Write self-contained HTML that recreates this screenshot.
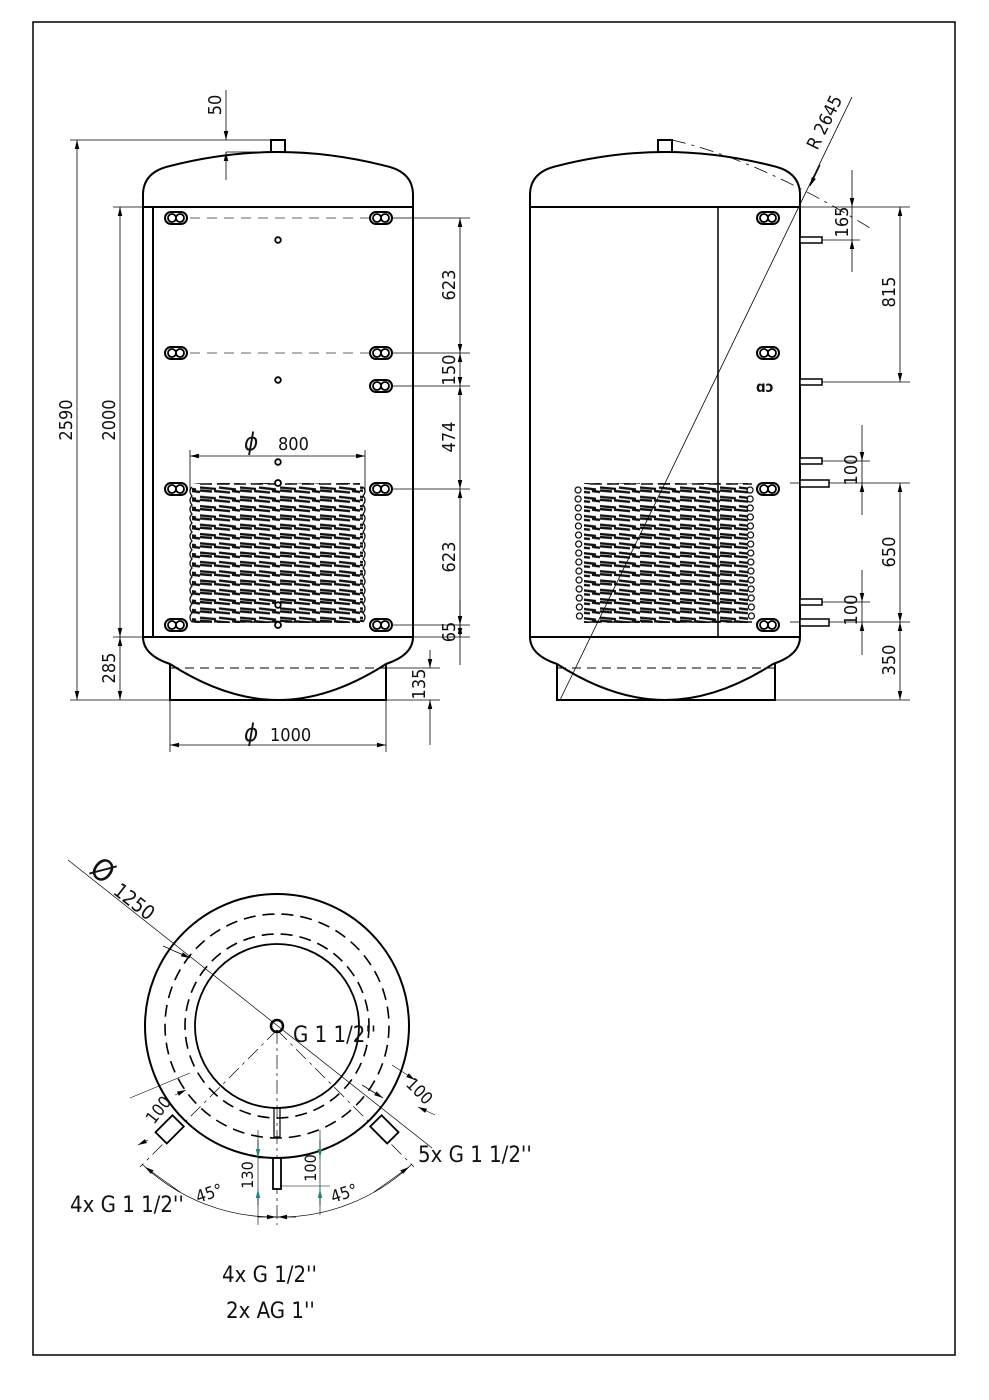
<!DOCTYPE html>
<html><head><meta charset="utf-8"><style>
html,body{margin:0;padding:0;background:#fff}
svg{display:block}
text{font-family:"Liberation Sans Narrow","DejaVu Sans Condensed","Liberation Sans",sans-serif;fill:#111}
</style></head><body>
<svg width="989" height="1400" viewBox="0 0 989 1400" xmlns="http://www.w3.org/2000/svg">
<defs>
<marker id="a" viewBox="0 0 10 10" refX="10" refY="5" markerWidth="9" markerHeight="9" orient="auto-start-reverse" markerUnits="userSpaceOnUse"><path d="M0,2.5 L10,5 L0,7.5z" fill="#000"/></marker>
<marker id="t" viewBox="0 0 10 10" refX="10" refY="5" markerWidth="9" markerHeight="9" orient="auto-start-reverse" markerUnits="userSpaceOnUse"><path d="M0,2.5 L10,5 L0,7.5z" fill="#148a80"/></marker>
<g id="n"><rect x="-11" y="-6" width="22" height="12" rx="6" fill="#fff" stroke="#000" stroke-width="2"/><circle cx="-4" cy="0" r="4" fill="none" stroke="#000" stroke-width="1.8"/><circle cx="4" cy="0" r="4" fill="none" stroke="#000" stroke-width="1.8"/></g>
<pattern id="coil" x="0" y="485" width="40" height="9.3" patternUnits="userSpaceOnUse">
<path d="M0,2.5 L16,4 M19,2.5 L36,4.5 M0,5.5 L12,6.5 M14,6 L30,7.5 M32,6 L40,7" stroke="#111" stroke-width="2.4"/>
</pattern>
</defs>
<rect x="33" y="22" width="922" height="1333" fill="none" stroke="#000" stroke-width="1.5"/>

<!-- LEFT TANK -->
<g fill="none" stroke="#000" stroke-width="2">
<path d="M143,637 L143,195 Q143,172 170,166 Q225,152 278,152 Q331,152 386,166 Q413,172 413,195 L413,637 Q413,655 386,664 Q330,700 278,700 Q226,700 170,664 Q143,655 143,637Z"/>
<line x1="143" y1="207" x2="413" y2="207"/>
<line x1="143" y1="637" x2="413" y2="637"/>
<line x1="153" y1="207" x2="153" y2="637"/>
<rect x="271" y="140" width="14" height="12"/>
<path d="M170,664 L170,700 L386,700 L386,664"/>
</g>
<line x1="170" y1="668" x2="386" y2="668" stroke="#000" stroke-dasharray="9,6"/>
<g stroke="#333" stroke-width="0.8" stroke-dasharray="10,7">
<line x1="190" y1="218" x2="370" y2="218"/><line x1="190" y1="353" x2="370" y2="353"/>
</g>
<rect x="192" y="483" width="171" height="140" fill="url(#coil)"/>
<g fill="none" stroke="#111" stroke-width="1.3">
<path d="M192,487 q-4,4 0,9 q-4,4 0,9 q-4,4 0,9 q-4,4 0,9 q-4,4 0,9 q-4,4 0,9 q-4,4 0,9 q-4,4 0,9 q-4,4 0,9 q-4,4 0,9 q-4,4 0,9 q-4,4 0,9 q-4,4 0,9 q-4,4 0,9 q-4,4 0,9"/>
<path d="M363,487 q4,4 0,9 q4,4 0,9 q4,4 0,9 q4,4 0,9 q4,4 0,9 q4,4 0,9 q4,4 0,9 q4,4 0,9 q4,4 0,9 q4,4 0,9 q4,4 0,9 q4,4 0,9 q4,4 0,9 q4,4 0,9 q4,4 0,9"/>
</g>
<line x1="200" y1="484" x2="360" y2="484" stroke="#111" stroke-width="1.5" stroke-dasharray="12,5"/>
<line x1="200" y1="622" x2="360" y2="622" stroke="#111" stroke-width="1.5" stroke-dasharray="12,5"/>
<use href="#n" x="176" y="218"/><use href="#n" x="381" y="218"/>
<use href="#n" x="176" y="353"/><use href="#n" x="381" y="353"/>
<use href="#n" x="381" y="386"/>
<use href="#n" x="176" y="489"/><use href="#n" x="381" y="489"/>
<use href="#n" x="176" y="625"/><use href="#n" x="381" y="625"/>
<g fill="#fff" stroke="#000" stroke-width="1.8">
<circle cx="278" cy="240" r="2.8"/><circle cx="278" cy="380" r="2.8"/><circle cx="278" cy="462" r="2.8"/><circle cx="278" cy="483" r="3"/><circle cx="278" cy="605" r="2.8"/><circle cx="278" cy="625" r="3"/>
</g>
<!-- left dims -->
<g stroke="#000" stroke-width="0.8" fill="none">
<line x1="70" y1="140" x2="272" y2="140"/><line x1="113" y1="207" x2="143" y2="207"/>
<line x1="113" y1="637" x2="143" y2="637"/><line x1="70" y1="700" x2="170" y2="700"/>
<line x1="77" y1="140" x2="77" y2="700" marker-start="url(#a)" marker-end="url(#a)"/>
<line x1="120" y1="207" x2="120" y2="637" marker-start="url(#a)" marker-end="url(#a)"/>
<line x1="120" y1="637" x2="120" y2="700" marker-start="url(#a)" marker-end="url(#a)"/>
<line x1="226" y1="90" x2="226" y2="140" marker-end="url(#a)"/>
<line x1="226" y1="180" x2="226" y2="152" marker-end="url(#a)"/>
<line x1="226" y1="152" x2="278" y2="152"/>
<line x1="393" y1="218" x2="470" y2="218"/><line x1="393" y1="353" x2="470" y2="353"/>
<line x1="393" y1="386" x2="470" y2="386"/><line x1="393" y1="489" x2="470" y2="489"/>
<line x1="393" y1="625" x2="470" y2="625"/><line x1="413" y1="637" x2="470" y2="637"/>
<line x1="386" y1="668" x2="440" y2="668"/><line x1="386" y1="700" x2="440" y2="700"/>
<line x1="460" y1="218" x2="460" y2="353" marker-start="url(#a)" marker-end="url(#a)"/>
<line x1="460" y1="353" x2="460" y2="386" marker-start="url(#a)" marker-end="url(#a)"/>
<line x1="460" y1="386" x2="460" y2="489" marker-start="url(#a)" marker-end="url(#a)"/>
<line x1="460" y1="489" x2="460" y2="625" marker-start="url(#a)" marker-end="url(#a)"/>
<line x1="460" y1="625" x2="460" y2="665" marker-start="url(#a)"/>
<line x1="460" y1="600" x2="460" y2="637" marker-end="url(#a)"/>
<line x1="430" y1="650" x2="430" y2="668" marker-end="url(#a)"/>
<line x1="430" y1="745" x2="430" y2="700" marker-end="url(#a)"/>
<line x1="170" y1="700" x2="170" y2="752"/><line x1="386" y1="700" x2="386" y2="752"/>
<line x1="170" y1="745" x2="386" y2="745" marker-start="url(#a)" marker-end="url(#a)"/>
<line x1="190" y1="450" x2="190" y2="490"/><line x1="365" y1="450" x2="365" y2="490"/>
<line x1="190" y1="456" x2="365" y2="456" marker-start="url(#a)" marker-end="url(#a)"/>
</g>
<g font-size="18">
<text transform="translate(72,420) rotate(-90)" text-anchor="middle">2590</text>
<text transform="translate(115,420) rotate(-90)" text-anchor="middle">2000</text>
<text transform="translate(115,668) rotate(-90)" text-anchor="middle">285</text>
<text transform="translate(221,105) rotate(-90)" text-anchor="middle">50</text>
<text transform="translate(455,285) rotate(-90)" text-anchor="middle">623</text>
<text transform="translate(455,370) rotate(-90)" text-anchor="middle">150</text>
<text transform="translate(455,437) rotate(-90)" text-anchor="middle">474</text>
<text transform="translate(455,557) rotate(-90)" text-anchor="middle">623</text>
<text transform="translate(455,632) rotate(-90)" text-anchor="middle">65</text>
<text transform="translate(425,684) rotate(-90)" text-anchor="middle">135</text>
<text x="244" y="741" font-size="24" font-style="italic">ϕ</text><text x="270" y="741">1000</text>
<text x="244" y="450" font-size="24" font-style="italic">ϕ</text><text x="278" y="450">800</text>
</g>

<!-- RIGHT TANK -->
<g fill="none" stroke="#000" stroke-width="2">
<path d="M530,637 L530,195 Q530,172 557,166 Q612,152 665,152 Q718,152 773,166 Q800,172 800,195 L800,637 Q800,655 773,664 Q717,700 665,700 Q613,700 557,664 Q530,655 530,637Z"/>
<line x1="530" y1="207" x2="800" y2="207"/>
<line x1="530" y1="637" x2="800" y2="637"/>
<line x1="718" y1="207" x2="718" y2="637" stroke-width="1.5"/>
<rect x="658" y="140" width="14" height="12"/>
<path d="M557,664 L557,700 L775,700 L775,664"/>
</g>
<line x1="557" y1="668" x2="775" y2="668" stroke="#000" stroke-dasharray="9,6"/>
<rect x="584" y="483" width="164" height="140" fill="url(#coil)"/>
<g fill="none" stroke="#111" stroke-width="1.2">
<path d="M578,487 a3,3 0 1,0 0.1,0 m0,9 a3,3 0 1,0 0.1,0 m0,9 a3,3 0 1,0 0.1,0 m0,9 a3,3 0 1,0 0.1,0 m0,9 a3,3 0 1,0 0.1,0 m0,9 a3,3 0 1,0 0.1,0 m0,9 a3,3 0 1,0 0.1,0 m0,9 a3,3 0 1,0 0.1,0 m0,9 a3,3 0 1,0 0.1,0 m0,9 a3,3 0 1,0 0.1,0 m0,9 a3,3 0 1,0 0.1,0 m0,9 a3,3 0 1,0 0.1,0 m0,9 a3,3 0 1,0 0.1,0 m0,9 a3,3 0 1,0 0.1,0 m0,9 a3,3 0 1,0 0.1,0"/>
<path d="M750,487 a3,3 0 1,0 0.1,0 m0,9 a3,3 0 1,0 0.1,0 m0,9 a3,3 0 1,0 0.1,0 m0,9 a3,3 0 1,0 0.1,0 m0,9 a3,3 0 1,0 0.1,0 m0,9 a3,3 0 1,0 0.1,0 m0,9 a3,3 0 1,0 0.1,0 m0,9 a3,3 0 1,0 0.1,0 m0,9 a3,3 0 1,0 0.1,0 m0,9 a3,3 0 1,0 0.1,0 m0,9 a3,3 0 1,0 0.1,0 m0,9 a3,3 0 1,0 0.1,0 m0,9 a3,3 0 1,0 0.1,0 m0,9 a3,3 0 1,0 0.1,0 m0,9 a3,3 0 1,0 0.1,0"/>
</g>
<line x1="590" y1="484" x2="752" y2="484" stroke="#111" stroke-width="1.5" stroke-dasharray="12,5"/>
<line x1="590" y1="622" x2="752" y2="622" stroke="#111" stroke-width="1.5" stroke-dasharray="12,5"/>
<use href="#n" x="768" y="218"/><use href="#n" x="768" y="353"/>
<use href="#n" x="768" y="489"/><use href="#n" x="768" y="625"/>
<text x="756" y="392" font-size="15" font-weight="bold">ɑɔ</text>
<g fill="#fff" stroke="#000" stroke-width="1.5">
<rect x="800" y="237" width="22" height="6"/><rect x="800" y="379" width="22" height="6"/>
<rect x="800" y="458" width="22" height="6"/><rect x="800" y="480" width="29" height="7"/>
<rect x="800" y="599" width="22" height="6"/><rect x="800" y="619" width="29" height="7"/>
</g>
<g stroke="#000" stroke-width="0.8" fill="none">
<line x1="560" y1="700" x2="852" y2="97"/>
<path d="M672,140 Q760,160 870,228" stroke-dasharray="14,6,3,6"/>
<line x1="820" y1="165" x2="810" y2="186" marker-end="url(#a)" stroke-width="1"/>
<line x1="800" y1="207" x2="910" y2="207"/>
<line x1="822" y1="240" x2="860" y2="240"/><line x1="822" y1="382" x2="910" y2="382"/>
<line x1="822" y1="461" x2="870" y2="461"/><line x1="829" y1="483" x2="910" y2="483"/>
<line x1="822" y1="602" x2="870" y2="602"/><line x1="829" y1="622" x2="910" y2="622"/>
<line x1="775" y1="700" x2="910" y2="700"/>
<line x1="790" y1="483" x2="800" y2="483"/><line x1="790" y1="622" x2="800" y2="622"/>
<line x1="852" y1="170" x2="852" y2="207" marker-end="url(#a)"/>
<line x1="852" y1="272" x2="852" y2="240" marker-end="url(#a)"/>
<line x1="852" y1="207" x2="852" y2="240"/>
<line x1="900" y1="207" x2="900" y2="382" marker-start="url(#a)" marker-end="url(#a)"/>
<line x1="862" y1="425" x2="862" y2="461" marker-end="url(#a)"/>
<line x1="862" y1="515" x2="862" y2="483" marker-end="url(#a)"/>
<line x1="862" y1="461" x2="862" y2="483"/>
<line x1="900" y1="483" x2="900" y2="622" marker-start="url(#a)" marker-end="url(#a)"/>
<line x1="862" y1="570" x2="862" y2="602" marker-end="url(#a)"/>
<line x1="862" y1="655" x2="862" y2="622" marker-end="url(#a)"/>
<line x1="862" y1="602" x2="862" y2="622"/>
<line x1="900" y1="622" x2="900" y2="700" marker-start="url(#a)" marker-end="url(#a)"/>
</g>
<g font-size="18">
<text transform="translate(830,125) rotate(-64)" text-anchor="middle">R 2645</text>
<text transform="translate(848,222) rotate(-90)" text-anchor="middle">165</text>
<text transform="translate(895,292) rotate(-90)" text-anchor="middle">815</text>
<text transform="translate(857,470) rotate(-90)" text-anchor="middle">100</text>
<text transform="translate(895,552) rotate(-90)" text-anchor="middle">650</text>
<text transform="translate(857,610) rotate(-90)" text-anchor="middle">100</text>
<text transform="translate(895,660) rotate(-90)" text-anchor="middle">350</text>
</g>

<!-- TOP VIEW -->
<g fill="none" stroke="#000">
<circle cx="277" cy="1026" r="132" stroke-width="2"/>
<circle cx="277" cy="1026" r="112" stroke-width="1.6" stroke-dasharray="12,7"/>
<circle cx="277" cy="1026" r="92" stroke-width="1.6" stroke-dasharray="12,7"/>
<circle cx="277" cy="1026" r="82" stroke-width="1.8"/>
<circle cx="277" cy="1026" r="6" stroke-width="2.5"/>
<line x1="68" y1="860" x2="432" y2="1148" stroke-width="0.7"/>
<line x1="277" y1="1030" x2="277" y2="1225" stroke-width="0.7" stroke-dasharray="14,4,3,4"/>
<line x1="277" y1="1030" x2="140" y2="1167" stroke-width="0.7" stroke-dasharray="14,5,3,5"/>
<line x1="277" y1="1030" x2="414" y2="1167" stroke-width="0.7" stroke-dasharray="14,5,3,5"/>
<rect x="273" y="1158" width="8" height="31" fill="#fff" stroke-width="1.8"/>
<path d="M272,1108 L282,1108 M274,1108 L274,1137 L280,1137 L280,1108" stroke-width="1.2"/>
<g transform="translate(176,1123) rotate(45)"><rect x="-8" y="-3" width="16" height="24" fill="#fff" stroke-width="1.8"/></g>
<g transform="translate(378,1123) rotate(-45)"><rect x="-8" y="-3" width="16" height="24" fill="#fff" stroke-width="1.8"/></g>
<path d="M142,1164 A191,191 0 0,0 277,1217 A191,191 0 0,0 412,1164" stroke-width="0.7"/>
<line x1="180" y1="1192" x2="145" y2="1167" marker-end="url(#a)" stroke-width="0.7"/>
<line x1="374" y1="1192" x2="409" y2="1167" marker-end="url(#a)" stroke-width="0.7"/>
<line x1="258" y1="1217" x2="276" y2="1217" marker-end="url(#a)" stroke-width="0.7"/>
<line x1="296" y1="1217" x2="278" y2="1217" marker-end="url(#a)" stroke-width="0.7"/>
<line x1="258" y1="1130" x2="258" y2="1225" stroke-width="0.6"/>
<line x1="320" y1="1130" x2="320" y2="1215" stroke-width="0.6"/>
<line x1="258" y1="1158" x2="281" y2="1158" stroke-width="0.6"/>
<line x1="281" y1="1186" x2="330" y2="1186" stroke-width="0.6"/>
<line x1="258" y1="1140" x2="258" y2="1158" marker-end="url(#t)" stroke-width="0.6"/>
<line x1="258" y1="1205" x2="258" y2="1189" marker-end="url(#t)" stroke-width="0.6"/>
<line x1="320" y1="1140" x2="320" y2="1158" marker-end="url(#t)" stroke-width="0.6"/>
<line x1="320" y1="1205" x2="320" y2="1189" marker-end="url(#t)" stroke-width="0.6"/>
<line x1="163" y1="946" x2="190" y2="958" marker-end="url(#a)" stroke-width="0.7"/>
<line x1="130" y1="1098" x2="190" y2="1073" stroke-width="0.6"/>
<line x1="175" y1="1095" x2="186" y2="1090" marker-end="url(#a)" stroke-width="0.6"/>
<line x1="148" y1="1140" x2="138" y2="1145" marker-end="url(#a)" stroke-width="0.6"/>
<line x1="392" y1="1065" x2="415" y2="1080" marker-end="url(#a)" stroke-width="0.6"/>
<line x1="435" y1="1115" x2="418" y2="1107" marker-end="url(#a)" stroke-width="0.6"/>
<line x1="362" y1="1085" x2="383" y2="1098" marker-end="url(#a)" stroke-width="0.8"/>
</g>
<g font-size="22">
<text transform="translate(88,872) rotate(38)" font-size="30">Ø</text>
<text transform="translate(112,893) rotate(38)" font-size="20">1250</text>
<text x="293" y="1042">G 1 1/2''</text>
<text x="418" y="1162">5x G 1 1/2''</text>
<text x="70" y="1212">4x G 1 1/2''</text>
<text x="222" y="1282">4x G 1/2''</text>
<text x="226" y="1318">2x AG 1''</text>
<text transform="translate(154,1125) rotate(-52)" font-size="17">100</text>
<text transform="translate(405,1085) rotate(45)" font-size="17">100</text>
<text transform="translate(253,1175) rotate(-90)" font-size="16" text-anchor="middle">130</text>
<text transform="translate(316,1168) rotate(-90)" font-size="16" text-anchor="middle">100</text>
<text transform="translate(198,1203) rotate(-18)" font-size="17">45°</text>
<text transform="translate(333,1203) rotate(-18)" font-size="17">45°</text>
</g>
</svg>
</body></html>
